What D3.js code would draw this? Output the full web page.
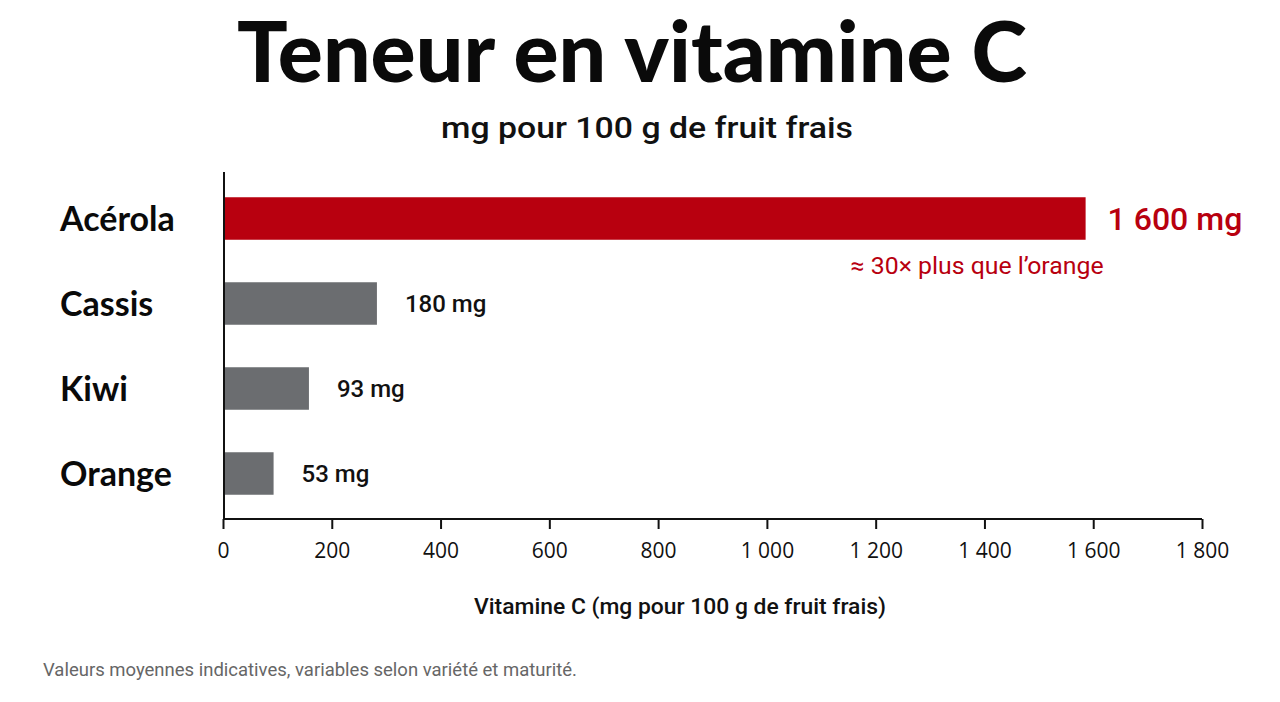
<!DOCTYPE html>
<html>
<head>
<meta charset="utf-8">
<script src="https://cdn.jsdelivr.net/npm/d3@7"></script>
<style>
  body { margin: 0; background: #fff; }
  svg { display: block; font-family: Roboto, "Noto Sans", sans-serif; }
</style>
</head>
<body>
<svg id="chart" width="1280" height="702"></svg>
<script>
// Data
var fruits = ["Acérola", "Cassis", "Kiwi", "Orange"];
var barValues = [1586, 283, 158, 93];          // bar lengths as drawn
var valueLabels = ["1 600 mg", "180 mg", "93 mg", "53 mg"];
var tickValues = [0, 200, 400, 600, 800, 1000, 1200, 1400, 1600, 1800];

var width = 1280, height = 702;
var svg = d3.select("#chart");

var x = d3.scaleLinear().domain([0, 1800]).range([223, 1202]);
var y = d3.scaleBand().domain(fruits).range([176, 516]).paddingInner(0.5).paddingOuter(0.25);

var red = "#b8000f";
var grey = "#6b6d70";
var lato = "Lato, Roboto, sans-serif";

// Title
svg.append("text") // Title
  .attr("x", 632)
  .attr("y", 82)
  .attr("text-anchor", "middle")
  .attr("textLength", 790)
  .attr("lengthAdjust", "spacingAndGlyphs")
  .style("font-family", lato)
  .style("font-size", "83px")
  .style("font-weight", 900)
  .style("fill", "#0a0a0a")
  .text("Teneur en vitamine C");

svg.append("text") // Subtitle
  .attr("x", 647)
  .attr("y", 138)
  .attr("text-anchor", "middle")
  .attr("textLength", 412)
  .attr("lengthAdjust", "spacingAndGlyphs")
  .style("font-size", "30px")
  .style("font-weight", 500)
  .style("fill", "#111")
  .text("mg pour 100 g de fruit frais");

// Bars
svg.selectAll("rect.bar")
  .data(fruits)
  .enter().append("rect")
  .attr("class", "bar")
  .attr("x", x(0))
  .attr("y", function(d) { return y(d); })
  .attr("width", function(d, i) { return x(barValues[i]) - x(0); })
  .attr("height", y.bandwidth())
  .style("fill", function(d, i) { return i === 0 ? red : grey; });

// Category labels
svg.selectAll("text.cat")
  .data(fruits)
  .enter().append("text")
  .attr("class", "cat")
  .attr("x", 60)
  .attr("y", function(d) { return y(d) + y.bandwidth() / 2; })
  .attr("dy", "0.36em")
  .style("font-family", lato)
  .style("font-size", "34px")
  .style("font-weight", 700)
  .style("fill", "#0a0a0a")
  .text(function(d) { return d; });

// Value labels
svg.selectAll("text.val")
  .data(fruits)
  .enter().append("text")
  .attr("class", "val")
  .attr("x", function(d, i) { return x(barValues[i]) + (i === 0 ? 22 : 28); })
  .attr("y", function(d) { return y(d) + y.bandwidth() / 2; })
  .attr("dy", "0.36em")
  .style("font-size", function(d, i) { return i === 0 ? "32px" : "24px"; })
  .style("font-weight", 500)
  .style("fill", function(d, i) { return i === 0 ? red : "#111"; })
  .text(function(d, i) { return valueLabels[i]; });

// Annotation under the acerola bar
svg.append("text")
  .attr("x", x(barValues[0]) + 18)
  .attr("y", y(fruits[0]) + y.bandwidth() + 34)
  .attr("text-anchor", "end")
  .attr("textLength", 253)
  .attr("lengthAdjust", "spacingAndGlyphs")
  .style("font-size", "24px")
  .style("font-weight", 400)
  .style("fill", red)
  .text("≈ 30× plus que l’orange");

// Axes
var xAxis = svg.append("g")
  .attr("transform", "translate(0,519)")
  .call(d3.axisBottom(x).tickValues(tickValues).tickSize(10).tickPadding(14)
    .tickFormat(function(d) { return d3.format(",")(d).replace(",", " "); }));
xAxis.select(".domain").attr("stroke", "#111").attr("stroke-width", 2).attr("d", "M223,0H1202");
xAxis.selectAll(".tick line").attr("stroke", "#111").attr("stroke-width", 2);
xAxis.selectAll(".tick text")
  .style("font-family", "'Open Sans', Roboto, sans-serif")
  .style("font-size", "21px")
  .style("fill", "#111");

svg.append("line") // y axis line
  .attr("x1", 224).attr("x2", 224)
  .attr("y1", 172).attr("y2", 520)
  .attr("stroke", "#111")
  .attr("stroke-width", 2);

svg.append("text") // x axis title
  .attr("x", 680)
  .attr("y", 614)
  .attr("text-anchor", "middle")
  .attr("textLength", 412)
  .attr("lengthAdjust", "spacingAndGlyphs")
  .style("font-size", "22px")
  .style("font-weight", 500)
  .style("fill", "#111")
  .text("Vitamine C (mg pour 100 g de fruit frais)");

svg.append("text") // Source note
  .attr("x", 43)
  .attr("y", 676)
  .attr("textLength", 534)
  .attr("lengthAdjust", "spacingAndGlyphs")
  .style("font-size", "18px")
  .style("fill", "#666")
  .text("Valeurs moyennes indicatives, variables selon variété et maturité.");
</script>
</body>
</html>
